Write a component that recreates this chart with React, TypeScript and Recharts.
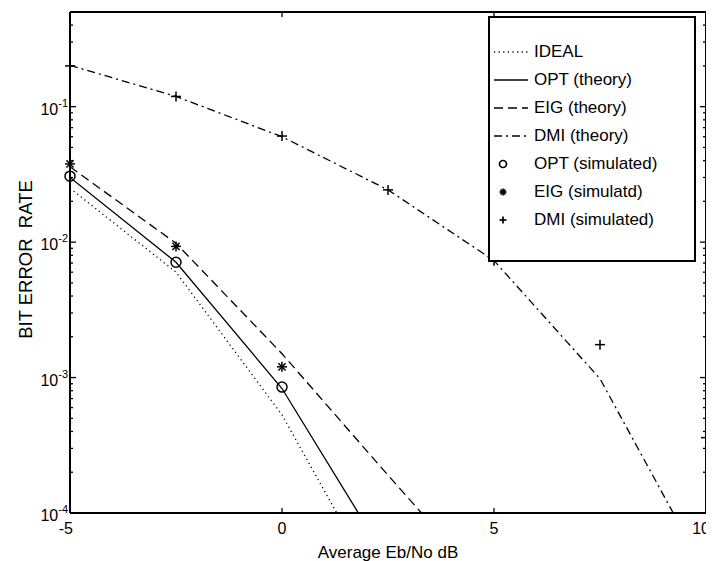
import React from 'react';
import { ComposedChart, Line, XAxis, YAxis, Legend, Label } from 'recharts';

// Eb/No grid (dB) and BER values
const ebNo = [-5, -2.5, 0, 2.5, 5, 7.5, 10];
const idealBer = [0.025, 0.006, 0.00053, 0.000021, null, null, null];
const optTheory = [0.030, 0.0071, 0.00083, 0.000044, null, null, null];
const eigTheory = [0.036, 0.0098, 0.0015, 0.00019, 0.000025, null, null];
const dmiTheory = [0.202, 0.119, 0.060, 0.0243, 0.0073, 0.00098, 0.000036];
const optSimulated = [0.0307, 0.0071, 0.00085, null, null, null, null];
const eigSimulated = [0.0378, 0.0093, 0.0012, null, null, null, null];
const dmiSimulated = [0.2, 0.119, 0.0607, 0.0243, 0.0073, 0.00175, 0.00036];

const xTicks = [-5, 0, 5, 10];
const xTickLabels = ['-5', '0', '5', '10'];
const yMajorTicks = [1e-4, 1e-3, 1e-2, 1e-1];
const yMajorExponents = ['-4', '-3', '-2', '-1'];
const yTicks = [
  1e-4, 2e-4, 3e-4, 4e-4, 5e-4, 6e-4, 7e-4, 8e-4, 9e-4,
  1e-3, 2e-3, 3e-3, 4e-3, 5e-3, 6e-3, 7e-3, 8e-3, 9e-3,
  1e-2, 2e-2, 3e-2, 4e-2, 5e-2, 6e-2, 7e-2, 8e-2, 9e-2,
  1e-1, 0.2, 0.3, 0.4, 0.5,
];
const legendLabels = [
  'IDEAL',
  'OPT (theory)',
  'EIG (theory)',
  'DMI (theory)',
  'OPT (simulated)',
  'EIG (simulatd)',
  'DMI (simulated)',
];

const data = ebNo.map((x, i) => ({
  x,
  ideal: idealBer[i],
  opt: optTheory[i],
  eig: eigTheory[i],
  dmi: dmiTheory[i],
  optSim: optSimulated[i],
  eigSim: eigSimulated[i],
  dmiSim: dmiSimulated[i],
}));

const FONT = '"Liberation Sans", Arial, Helvetica, sans-serif';
const INK = '#000';

type MarkerKind = 'circle' | 'star' | 'plus';

const curves = [
  { key: 'ideal', dash: '1.2 3.4', label: legendLabels[0] },
  { key: 'opt', dash: undefined, label: legendLabels[1] },
  { key: 'eig', dash: '9 5', label: legendLabels[2] },
  { key: 'dmi', dash: '8 4 2 4', label: legendLabels[3] },
];
const points: { key: string; marker: MarkerKind; label: string }[] = [
  { key: 'optSim', marker: 'circle', label: legendLabels[4] },
  { key: 'eigSim', marker: 'star', label: legendLabels[5] },
  { key: 'dmiSim', marker: 'plus', label: legendLabels[6] },
];

const Marker = ({ kind, cx, cy, s, w }: { kind: MarkerKind; cx: number; cy: number; s: number; w: number }) => {
  if (kind === 'circle') {
    return <circle cx={cx} cy={cy} r={s} fill="none" stroke={INK} strokeWidth={w} />;
  }
  const d = s * 0.72;
  return (
    <g stroke={INK} strokeWidth={w}>
      <line x1={cx} y1={cy - s} x2={cx} y2={cy + s} />
      <line x1={cx - s} y1={cy} x2={cx + s} y2={cy} />
      {kind === 'star' && (
        <>
          <line x1={cx - d} y1={cy - d} x2={cx + d} y2={cy + d} />
          <line x1={cx - d} y1={cy + d} x2={cx + d} y2={cy - d} />
        </>
      )}
    </g>
  );
};

const dotRenderer = (kind: MarkerKind) => (p: any) => {
  const key = `${kind}-${p.index}`;
  if (p.value == null || p.cx == null || p.cy == null) return <g key={key} />;
  return (
    <g key={key}>
      <Marker kind={kind} cx={p.cx} cy={p.cy} s={5} w={1.5} />
    </g>
  );
};

// ticks point into the plot, like the original figure
const LeftTick = (props: any) => {
  const { x, y, payload } = props;
  const idx = yMajorTicks.indexOf(payload.value);
  const major = idx >= 0;
  return (
    <g>
      <line x1={x} y1={y} x2={x + (major ? 6 : 3)} y2={y} stroke={INK} strokeWidth={1.3} />
      {major && (
        <text x={x - 2} y={y + 8} textAnchor="end" fontSize={16} fontFamily={FONT} fill={INK}>
          10
          <tspan dy={-8} fontSize={11}>{yMajorExponents[idx]}</tspan>
        </text>
      )}
    </g>
  );
};

const RightTick = (props: any) => {
  const { x, y, payload } = props;
  const major = yMajorTicks.indexOf(payload.value) >= 0;
  return <line x1={x} y1={y} x2={x - (major ? 6 : 3)} y2={y} stroke={INK} strokeWidth={1.3} />;
};

const BottomTick = (props: any) => {
  const { x, y, payload } = props;
  const idx = xTicks.indexOf(payload.value);
  const last = idx === xTicks.length - 1;
  const first = idx === 0;
  return (
    <g>
      <line x1={x} y1={y} x2={x} y2={y - 5} stroke={INK} strokeWidth={1.3} />
      <text
        x={last ? x + 4 : first ? x + 3 : x}
        y={y + 21}
        textAnchor={last || first ? 'end' : 'middle'}
        fontSize={16}
        fontFamily={FONT}
        fill={INK}
      >
        {xTickLabels[idx]}
      </text>
    </g>
  );
};

const TopTick = (props: any) => {
  const { x, y } = props;
  return <line x1={x} y1={y} x2={x} y2={y + 5} stroke={INK} strokeWidth={1.3} />;
};

const LegendBox = () => (
  <div
    style={{
      width: 208,
      height: 246,
      boxSizing: 'border-box',
      border: `2px solid ${INK}`,
      background: '#fff',
      paddingTop: 20,
      fontFamily: FONT,
      fontSize: 17,
      color: INK,
    }}
  >
    {curves.map((c) => (
      <div key={c.key} style={{ display: 'flex', alignItems: 'center', height: 28 }}>
        <svg width={44} height={14}>
          <line x1={4} y1={7} x2={38} y2={7} stroke={INK} strokeWidth={1.3} strokeDasharray={c.dash} />
        </svg>
        <span>{c.label}</span>
      </div>
    ))}
    {points.map((p) => (
      <div key={p.key} style={{ display: 'flex', alignItems: 'center', height: 28 }}>
        <svg width={44} height={14}>
          <Marker kind={p.marker} cx={13} cy={7} s={3.5} w={1.7} />
        </svg>
        <span>{p.label}</span>
      </div>
    ))}
  </div>
);

const frame = { stroke: INK, strokeWidth: 2 };

export default function App() {
  return (
    <ComposedChart
      width={706}
      height={553}
      data={data}
      margin={{ top: 0, right: 0, bottom: 0, left: 0 }}
      style={{ fontFamily: FONT }}
    >
      <XAxis
        dataKey="x"
        type="number"
        domain={[-5, 10]}
        ticks={xTicks}
        interval={0}
        allowDataOverflow
        height={48}
        tickSize={0}
        tickMargin={0}
        tickLine={false}
        stroke={INK}
        axisLine={frame}
        tick={<BottomTick />}
      >
        <Label
          content={({ viewBox }: any) => (
            <text
              x={viewBox.x + viewBox.width / 2}
              y={viewBox.y + 45}
              textAnchor="middle"
              fontSize={17}
              fontFamily={FONT}
              fill={INK}
            >
              Average Eb/No dB
            </text>
          )}
        />
      </XAxis>
      {/* mirror axes: frame + inward ticks; the simulated markers use them so they are not clipped */}
      <XAxis
        xAxisId="top"
        orientation="top"
        dataKey="x"
        type="number"
        domain={[-5, 10]}
        ticks={xTicks}
        interval={0}
        height={4}
        tickSize={0}
        tickMargin={0}
        tickLine={false}
        stroke={INK}
        axisLine={frame}
        tick={<TopTick />}
      />
      <YAxis
        scale="log"
        type="number"
        domain={[1e-4, 0.5]}
        ticks={yTicks}
        interval={0}
        allowDataOverflow
        width={62}
        tickSize={0}
        tickMargin={0}
        tickLine={false}
        stroke={INK}
        axisLine={frame}
        tick={<LeftTick />}
      >
        <Label
          content={({ viewBox }: any) => {
            const cx = viewBox.x + 17;
            const cy = viewBox.y + viewBox.height / 2 - 3;
            return (
              <text
                x={cx}
                y={cy}
                transform={`rotate(-90 ${cx} ${cy})`}
                textAnchor="middle"
                dominantBaseline="central"
                fontSize={18.5}
                fontFamily={FONT}
                fill={INK}
                style={{ whiteSpace: 'pre' }}
              >
                {'BIT ERROR  RATE'}
              </text>
            );
          }}
        />
      </YAxis>
      <YAxis
        yAxisId="right"
        orientation="right"
        scale="log"
        type="number"
        domain={[1e-4, 0.5]}
        ticks={yTicks}
        interval={0}
        width={8}
        tickSize={0}
        tickMargin={0}
        tickLine={false}
        stroke={INK}
        axisLine={frame}
        tick={<RightTick />}
      />
      <Legend
        layout="vertical"
        align="center"
        verticalAlign="middle"
        wrapperStyle={{ left: 480, top: 8, width: 208 }}
        content={<LegendBox />}
      />
      {curves.map((c) => (
        <Line
          key={c.key}
          dataKey={c.key}
          type="linear"
          stroke={INK}
          strokeWidth={1.3}
          strokeDasharray={c.dash}
          dot={false}
          activeDot={false}
          isAnimationActive={false}
        />
      ))}
      {points.map((p) => (
        <Line
          key={p.key}
          dataKey={p.key}
          xAxisId="top"
          yAxisId="right"
          type="linear"
          stroke="none"
          dot={dotRenderer(p.marker)}
          activeDot={false}
          isAnimationActive={false}
        />
      ))}
    </ComposedChart>
  );
}
